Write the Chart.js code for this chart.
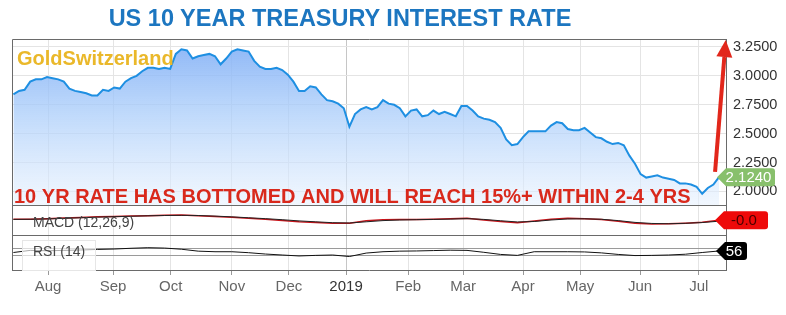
<!DOCTYPE html>
<html>
<head>
<meta charset="utf-8">
<script src="https://cdn.jsdelivr.net/npm/chart.js@4"></script>
<style>
	html, body { margin: 0; padding: 0; background: #fff; }
	#wrap { position: relative; width: 786px; height: 315px; }
	#title {
		position: absolute; left: 0; top: 5px; width: 680px; text-align: center;
		font: bold 23.5px "Liberation Sans", Arial, sans-serif; color: #1c76c0;
	}
	canvas { position: absolute; left: 0; top: 0; }
</style>
</head>
<body>
<div id="wrap">
	<canvas id="chart" width="786" height="315"></canvas>
	<div id="title">US 10 YEAR TREASURY INTEREST RATE</div>
</div>
<script>
// x unit = one sample, two trading days apart (mid-Jul 2018 .. mid-Jul 2019)
const monthLabels = ["Aug", "Sep", "Oct", "Nov", "Dec", "2019", "Feb", "Mar", "Apr", "May", "Jun", "Jul"];
const monthStart = [6.2, 17.8, 28.1, 39.0, 49.2, 59.4, 70.5, 80.3, 91.0, 101.2, 111.9, 122.4];
const yieldTicks = [2.0, 2.25, 2.5, 2.75, 3.0, 3.25];

const rates = [
	2.84, 2.87, 2.88, 2.95, 2.97, 2.97, 2.99, 2.98, 2.97, 2.95,
	2.89, 2.87, 2.86, 2.85, 2.83, 2.83, 2.88, 2.87, 2.90, 2.89,
	2.95, 2.98, 3.00, 3.04, 3.07, 3.07, 3.06, 3.07, 3.06, 3.19,
	3.23, 3.22, 3.15, 3.17, 3.18, 3.19, 3.17, 3.10, 3.15, 3.21,
	3.23, 3.22, 3.21, 3.13, 3.08, 3.06, 3.06, 3.07, 3.05, 3.01,
	2.95, 2.87, 2.87, 2.91, 2.90, 2.84, 2.79, 2.78, 2.76, 2.72,
	2.56, 2.67, 2.71, 2.73, 2.71, 2.73, 2.79, 2.76, 2.75, 2.72,
	2.65, 2.70, 2.71, 2.65, 2.66, 2.70, 2.67, 2.69, 2.67, 2.65,
	2.74, 2.74, 2.70, 2.65, 2.63, 2.62, 2.60, 2.55, 2.45, 2.40,
	2.41, 2.47, 2.52, 2.52, 2.52, 2.52, 2.57, 2.60, 2.59, 2.54,
	2.53, 2.53, 2.55, 2.51, 2.47, 2.46, 2.43, 2.41, 2.42, 2.40,
	2.31, 2.24, 2.15, 2.12, 2.13, 2.14, 2.12, 2.11, 2.10, 2.07,
	2.07, 2.06, 2.04, 1.98, 2.03, 2.06, 2.124
];

// indicators are read every 3 samples
const indStep = 3;
const macd = [
	0.005, 0.005, 0.009, 0.013, 0.017, 0.021, 0.024, 0.027, 0.029, 0.031,
	0.033, 0.029, 0.023, 0.018, 0.012, 0.005, -0.003, -0.011, -0.016, -0.022,
	-0.021, -0.005, 0.001, 0.003, 0.003, 0.005, 0.008, 0.011, 0.000, -0.010,
	-0.018, -0.007, 0.005, 0.011, 0.008, 0.004, -0.009, -0.022, -0.027, -0.025,
	-0.021, -0.015, -0.002
];
const signal = [
	0.004, 0.005, 0.007, 0.011, 0.015, 0.019, 0.022, 0.025, 0.028, 0.030,
	0.031, 0.030, 0.026, 0.021, 0.015, 0.009, 0.002, -0.006, -0.012, -0.018,
	-0.020, -0.012, -0.004, 0.000, 0.002, 0.004, 0.006, 0.009, 0.004, -0.005,
	-0.013, -0.010, 0.000, 0.007, 0.008, 0.005, -0.004, -0.016, -0.023, -0.025,
	-0.022, -0.017, -0.008
];
const rsi = [
	48, 59, 57, 59, 61, 64, 66, 70, 73, 71,
	65, 55, 52, 52, 47, 40, 35, 30, 33, 35,
	27, 45, 52, 55, 56, 58, 60, 59, 49, 38,
	33, 52, 52, 52, 51, 46, 38, 32, 33, 35,
	39, 48, 56
];
const rsiLevels = [30, 70];

const rateTag = "2.1240";
const macdTag = "-0.0";
const rsiTag = "56";
const message = "10 YR RATE HAS BOTTOMED AND WILL REACH 15%+ WITHIN 2-4 YRS";
// arrow drawn from near the last close up to the top of the scale
const arrowFrom = {x: 125.3, y: 2.17};
const arrowTo = {x: 127.2, y: 3.31};

const FONT = '"Liberation Sans", Arial, sans-serif';

const toPoints = (arr, step) => arr.map((v, i) => ({x: i * step, y: v}));

const drawTag = (ctx, left, yc, w, h, bg, fg, text, font) => {
	ctx.fillStyle = bg;
	ctx.beginPath();
	ctx.moveTo(left - 9, yc);
	ctx.lineTo(left, yc - h / 2);
	ctx.lineTo(left + w - 3, yc - h / 2);
	ctx.quadraticCurveTo(left + w, yc - h / 2, left + w, yc - h / 2 + 3);
	ctx.lineTo(left + w, yc + h / 2 - 3);
	ctx.quadraticCurveTo(left + w, yc + h / 2, left + w - 3, yc + h / 2);
	ctx.lineTo(left, yc + h / 2);
	ctx.closePath();
	ctx.fill();
	ctx.fillStyle = fg;
	ctx.font = font;
	ctx.textAlign = "center";
	ctx.textBaseline = "middle";
	ctx.fillText(text, left + w / 2 - 2, yc + 1);
};

const overlay = {
	id: "overlay",
	afterDatasetsDraw(chart) {
		const {ctx, chartArea: a} = chart;
		const {y, yMacd, yRsi} = chart.scales;
		ctx.save();

		// caption boxes of the indicator panels
		ctx.fillStyle = "rgba(255,255,255,0.65)";
		ctx.strokeStyle = "#e6e6e6";
		ctx.fillRect(a.left + 10, yRsi.top + 5, 73, yRsi.bottom - yRsi.top - 5);
		ctx.strokeRect(a.left + 10.5, yRsi.top + 5.5, 73, yRsi.bottom - yRsi.top - 5);
		ctx.font = "14px " + FONT;
		ctx.fillStyle = "#444";
		ctx.textAlign = "left";
		ctx.textBaseline = "middle";
		ctx.fillText("MACD (12,26,9)", a.left + 21, yMacd.getPixelForValue(-0.02));
		ctx.fillText("RSI (14)", a.left + 21, yRsi.getPixelForValue(50));

		// panel frame
		ctx.strokeStyle = "#6a6a6a";
		ctx.lineWidth = 1;
		ctx.beginPath();
		ctx.moveTo(a.left + 0.5, a.bottom);
		ctx.lineTo(a.left + 0.5, a.top + 0.5);
		ctx.lineTo(a.right, a.top + 0.5);
		[y.bottom, yMacd.bottom].forEach(b => {
			ctx.moveTo(a.left, Math.round(b) + 0.5);
			ctx.lineTo(a.right, Math.round(b) + 0.5);
		});
		ctx.stroke();

		// watermark
		ctx.textBaseline = "alphabetic";
		ctx.font = "bold 20px " + FONT;
		ctx.fillStyle = "#eab82a";
		ctx.fillText("GoldSwitzerland", a.left + 5, a.top + 26);

		// message
		ctx.font = "bold 20px " + FONT;
		ctx.fillStyle = "#d9291c";
		ctx.fillText(message, a.left + 2, y.bottom - 2);
		ctx.restore();
	},
	afterDraw(chart) {
		const {ctx, chartArea: a} = chart;
		const {x, y, yMacd, yRsi} = chart.scales;
		ctx.save();

		// red arrow
		const x0 = x.getPixelForValue(arrowFrom.x), y0 = y.getPixelForValue(arrowFrom.y);
		const x1 = x.getPixelForValue(arrowTo.x), y1 = y.getPixelForValue(arrowTo.y);
		const ang = Math.atan2(y1 - y0, x1 - x0);
		const headLen = 17, headW = 8;
		const bx = x1 - headLen * Math.cos(ang), by = y1 - headLen * Math.sin(ang);
		ctx.strokeStyle = "#e2271b";
		ctx.fillStyle = "#e2271b";
		ctx.lineWidth = 4;
		ctx.beginPath();
		ctx.moveTo(x0, y0);
		ctx.lineTo(bx, by);
		ctx.stroke();
		ctx.beginPath();
		ctx.moveTo(x1, y1);
		ctx.lineTo(bx + headW * Math.sin(ang), by - headW * Math.cos(ang));
		ctx.lineTo(bx - headW * Math.sin(ang), by + headW * Math.cos(ang));
		ctx.closePath();
		ctx.fill();

		// last value tags
		drawTag(ctx, a.right, y.getPixelForValue(rates[rates.length - 1]), 49, 18,
			"#88c06c", "#fff", rateTag, "15px " + FONT);
		drawTag(ctx, a.right - 2, yMacd.getPixelForValue(macd[macd.length - 1]), 44, 18,
			"#ee0a0a", "#4a0000", macdTag, "15px " + FONT);
		drawTag(ctx, a.right - 1, yRsi.getPixelForValue(rsi[rsi.length - 1]), 22, 18,
			"#000", "#fff", rsiTag, "15px " + FONT);
		ctx.restore();
	}
};

const fitWidth = s => { s.width = 60; };

const canvas = document.getElementById("chart");
const chart = new Chart(canvas, {
	type: "line",
	data: {
		datasets: [
			{
				label: "US10Y",
				data: toPoints(rates, 1),
				yAxisID: "y",
				borderColor: "#1e8fe2",
				borderWidth: 2,
				pointRadius: 0,
				tension: 0,
				fill: "start",
				backgroundColor: (c) => {
					const ch = c.chart;
					if (!ch.chartArea || !ch.scales.y) return "rgba(140,185,245,0.6)";
					const g = ch.ctx.createLinearGradient(0, ch.scales.y.top, 0, ch.scales.y.bottom);
					g.addColorStop(0, "rgba(125,172,245,0.9)");
					g.addColorStop(0.45, "rgba(170,205,250,0.75)");
					g.addColorStop(1, "rgba(232,242,254,0.6)");
					return g;
				},
			},
			{
				label: "Signal",
				data: toPoints(signal, indStep),
				yAxisID: "yMacd",
				borderColor: "#222",
				borderWidth: 1,
				pointRadius: 0,
				fill: false,
			},
			{
				label: "MACD",
				data: toPoints(macd, indStep),
				yAxisID: "yMacd",
				borderColor: "#c8141a",
				borderWidth: 1.5,
				pointRadius: 0,
				fill: false,
			},
			{
				label: "RSI",
				data: toPoints(rsi, indStep),
				yAxisID: "yRsi",
				borderColor: "#111",
				borderWidth: 1,
				pointRadius: 0,
				fill: false,
			},
		],
	},
	options: {
		responsive: false,
		animation: false,
		devicePixelRatio: 1,
		layout: {padding: {left: 12, top: 39, right: 0, bottom: 20}},
		plugins: {
			legend: {display: false},
			tooltip: {enabled: false},
		},
		scales: {
			x: {
				type: "linear",
				min: -0.25,
				max: 127.25,
				afterBuildTicks: s => { s.ticks = monthStart.map(v => ({value: v})); },
				afterFit: s => { s.height = 25; },
				ticks: {
					autoSkip: false,
					maxRotation: 0,
					padding: 3,
					callback: (v, i) => monthLabels[i],
					color: c => (c.index === 5 ? "#333" : "#666"),
					font: {family: FONT, size: 15},
				},
				grid: {
					color: c => (c.index === 5 ? "#c6c6c6" : "#e4e4e4"),
					tickLength: 5,
					tickColor: "#999",
				},
				border: {color: "#6a6a6a"},
			},
			y: {
				position: "right",
				stack: "panels",
				stackWeight: 166,
				min: 1.883,
				max: 3.319,
				afterBuildTicks: s => { s.ticks = yieldTicks.map(v => ({value: v})); },
				afterFit: fitWidth,
				ticks: {
					autoSkip: false,
					callback: v => v.toFixed(4),
					color: "#333",
					padding: 7,
					font: {family: FONT, size: 14.5},
				},
				grid: {color: "#e4e4e4", drawTicks: false},
				border: {color: "#6a6a6a"},
			},
			yMacd: {
				position: "right",
				stack: "panels",
				stackWeight: 30,
				min: -0.1,
				max: 0.1,
				afterFit: fitWidth,
				ticks: {display: false},
				grid: {display: false},
				border: {color: "#6a6a6a"},
			},
			yRsi: {
				position: "right",
				stack: "panels",
				stackWeight: 35,
				min: -43,
				max: 139,
				afterBuildTicks: s => { s.ticks = rsiLevels.map(v => ({value: v})); },
				afterFit: fitWidth,
				ticks: {display: false},
				grid: {color: "#9a9a9a", drawTicks: false},
				border: {color: "#6a6a6a"},
			},
		},
	},
	plugins: [overlay],
});
</script>
</body>
</html>
